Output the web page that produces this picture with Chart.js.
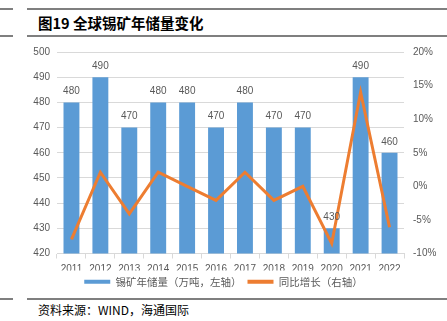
<!DOCTYPE html>
<html>
<head>
<meta charset="utf-8">
<script src="https://cdn.jsdelivr.net/npm/chart.js@4"></script>
<style>
  html, body { margin: 0; padding: 0; background: #fff; }
  #page { position: relative; width: 447px; height: 321px; overflow: hidden; }
  .rule { position: absolute; height: 1.5px; background: #7f7f7f; }
  #title { position: absolute; left: 38px; top: 12px; font: bold 14.5px "Noto Sans CJK SC", sans-serif; color: #000; white-space: nowrap; }
  #source { position: absolute; left: 38px; top: 301px; font: 12px "Noto Sans CJK SC", sans-serif; color: #000; white-space: nowrap; }
  #wrap { position: absolute; left: 0; top: 36px; width: 447px; height: 261px; }
</style>
</head>
<body>
<div id="page">
  <div class="rule" style="left:0;top:8px;width:13px"></div>
  <div class="rule" style="left:27px;top:8px;width:420px"></div>
  <div id="title">图19 全球锡矿年储量变化</div>
  <div class="rule" style="left:0;top:35px;width:13px"></div>
  <div class="rule" style="left:27px;top:35px;width:420px"></div>
  <div id="wrap"><canvas id="chart" width="447" height="261"></canvas></div>
  <div class="rule" style="left:0;top:298px;width:13px"></div>
  <div class="rule" style="left:27px;top:298px;width:420px"></div>
  <div id="source">资料来源：WIND，海通国际</div>
</div>
<script>
const years = ["2011", "2012", "2013", "2014", "2015", "2016", "2017", "2018", "2019", "2020", "2021", "2022"];
const reserves = [480, 490, 470, 480, 480, 470, 480, 470, 470, 430, 490, 460];
const yoyGrowth = [-7.9, 2.1, -4.1, 2.1, 0.0, -2.1, 2.1, -2.1, 0.0, -8.5, 14.0, -6.1];

const BAR_COLOR = "#5B9BD5";
const LINE_COLOR = "#ED7D31";
const TEXT_COLOR = "#595959";
const GRID_COLOR = "#d9d9d9";
const tickFont = { family: "Liberation Sans", size: 10 };

// value labels over the bars (no datalabels plugin offline)
const barLabels = {
  id: "barLabels",
  afterDatasetsDraw(chart) {
    const ctx = chart.ctx;
    const barIdx = chart.data.datasets.findIndex(ds => ds.type === "bar");
    const meta = chart.getDatasetMeta(barIdx);
    ctx.save();
    ctx.font = "10px 'Liberation Sans'";
    ctx.fillStyle = TEXT_COLOR;
    ctx.textAlign = "center";
    ctx.textBaseline = "bottom";
    meta.data.forEach((bar, i) => {
      ctx.fillText(String(reserves[i]), bar.x, bar.y - 6);
    });
    ctx.restore();
  }
};

const ctx = document.getElementById("chart").getContext("2d");
new Chart(ctx, {
  data: {
    labels: years,
    datasets: [
      {
        type: "line",
        label: "同比增长（右轴）",
        data: yoyGrowth,
        yAxisID: "y2",
        borderColor: LINE_COLOR,
        backgroundColor: LINE_COLOR,
        borderWidth: 3,
        pointRadius: 0,
        tension: 0,
        order: 0
      },
      {
        type: "bar",
        label: "锡矿年储量（万吨，左轴）",
        data: reserves,
        yAxisID: "y",
        backgroundColor: BAR_COLOR,
        categoryPercentage: 1,
        barPercentage: 0.55,
        order: 1
      }
    ]
  },
  options: {
    responsive: false,
    animation: false,
    layout: { padding: { top: 16, left: 0, right: 0, bottom: 0 } },
    plugins: {
      tooltip: { enabled: false },
      legend: {
        position: "bottom",
        reverse: true,
        labels: {
          color: TEXT_COLOR,
          font: { family: "Noto Sans CJK SC", size: 10.5 },
          boxWidth: 26,
          boxHeight: 4,
          padding: 6,
          generateLabels(chart) {
            return chart.data.datasets.map((ds, i) => ({
              text: ds.label,
              fillStyle: ds.type === "line" ? LINE_COLOR : BAR_COLOR,
              strokeStyle: "transparent",
              lineWidth: 0,
              fontColor: TEXT_COLOR,
              datasetIndex: i
            }));
          }
        }
      }
    },
    scales: {
      x: {
        afterFit(scale) { scale.height = 17; },
        grid: { drawOnChartArea: false, drawTicks: true, tickLength: 5, color: GRID_COLOR, offset: true },
        border: { color: GRID_COLOR },
        ticks: { color: TEXT_COLOR, font: tickFont, padding: 5, maxRotation: 0 }
      },
      y: {
        position: "left",
        min: 420,
        max: 500,
        afterFit(scale) { scale.width = 57; },
        grid: { color: GRID_COLOR, drawTicks: false },
        border: { display: false },
        ticks: { stepSize: 10, color: TEXT_COLOR, font: tickFont, padding: 7 }
      },
      y2: {
        position: "right",
        min: -10,
        max: 20,
        afterFit(scale) { scale.width = 43; },
        grid: { display: false, drawTicks: false },
        border: { display: false },
        ticks: {
          stepSize: 5,
          color: TEXT_COLOR,
          font: tickFont,
          padding: 9,
          callback: v => v + "%"
        }
      }
    }
  },
  plugins: [barLabels]
});
</script>
</body>
</html>
